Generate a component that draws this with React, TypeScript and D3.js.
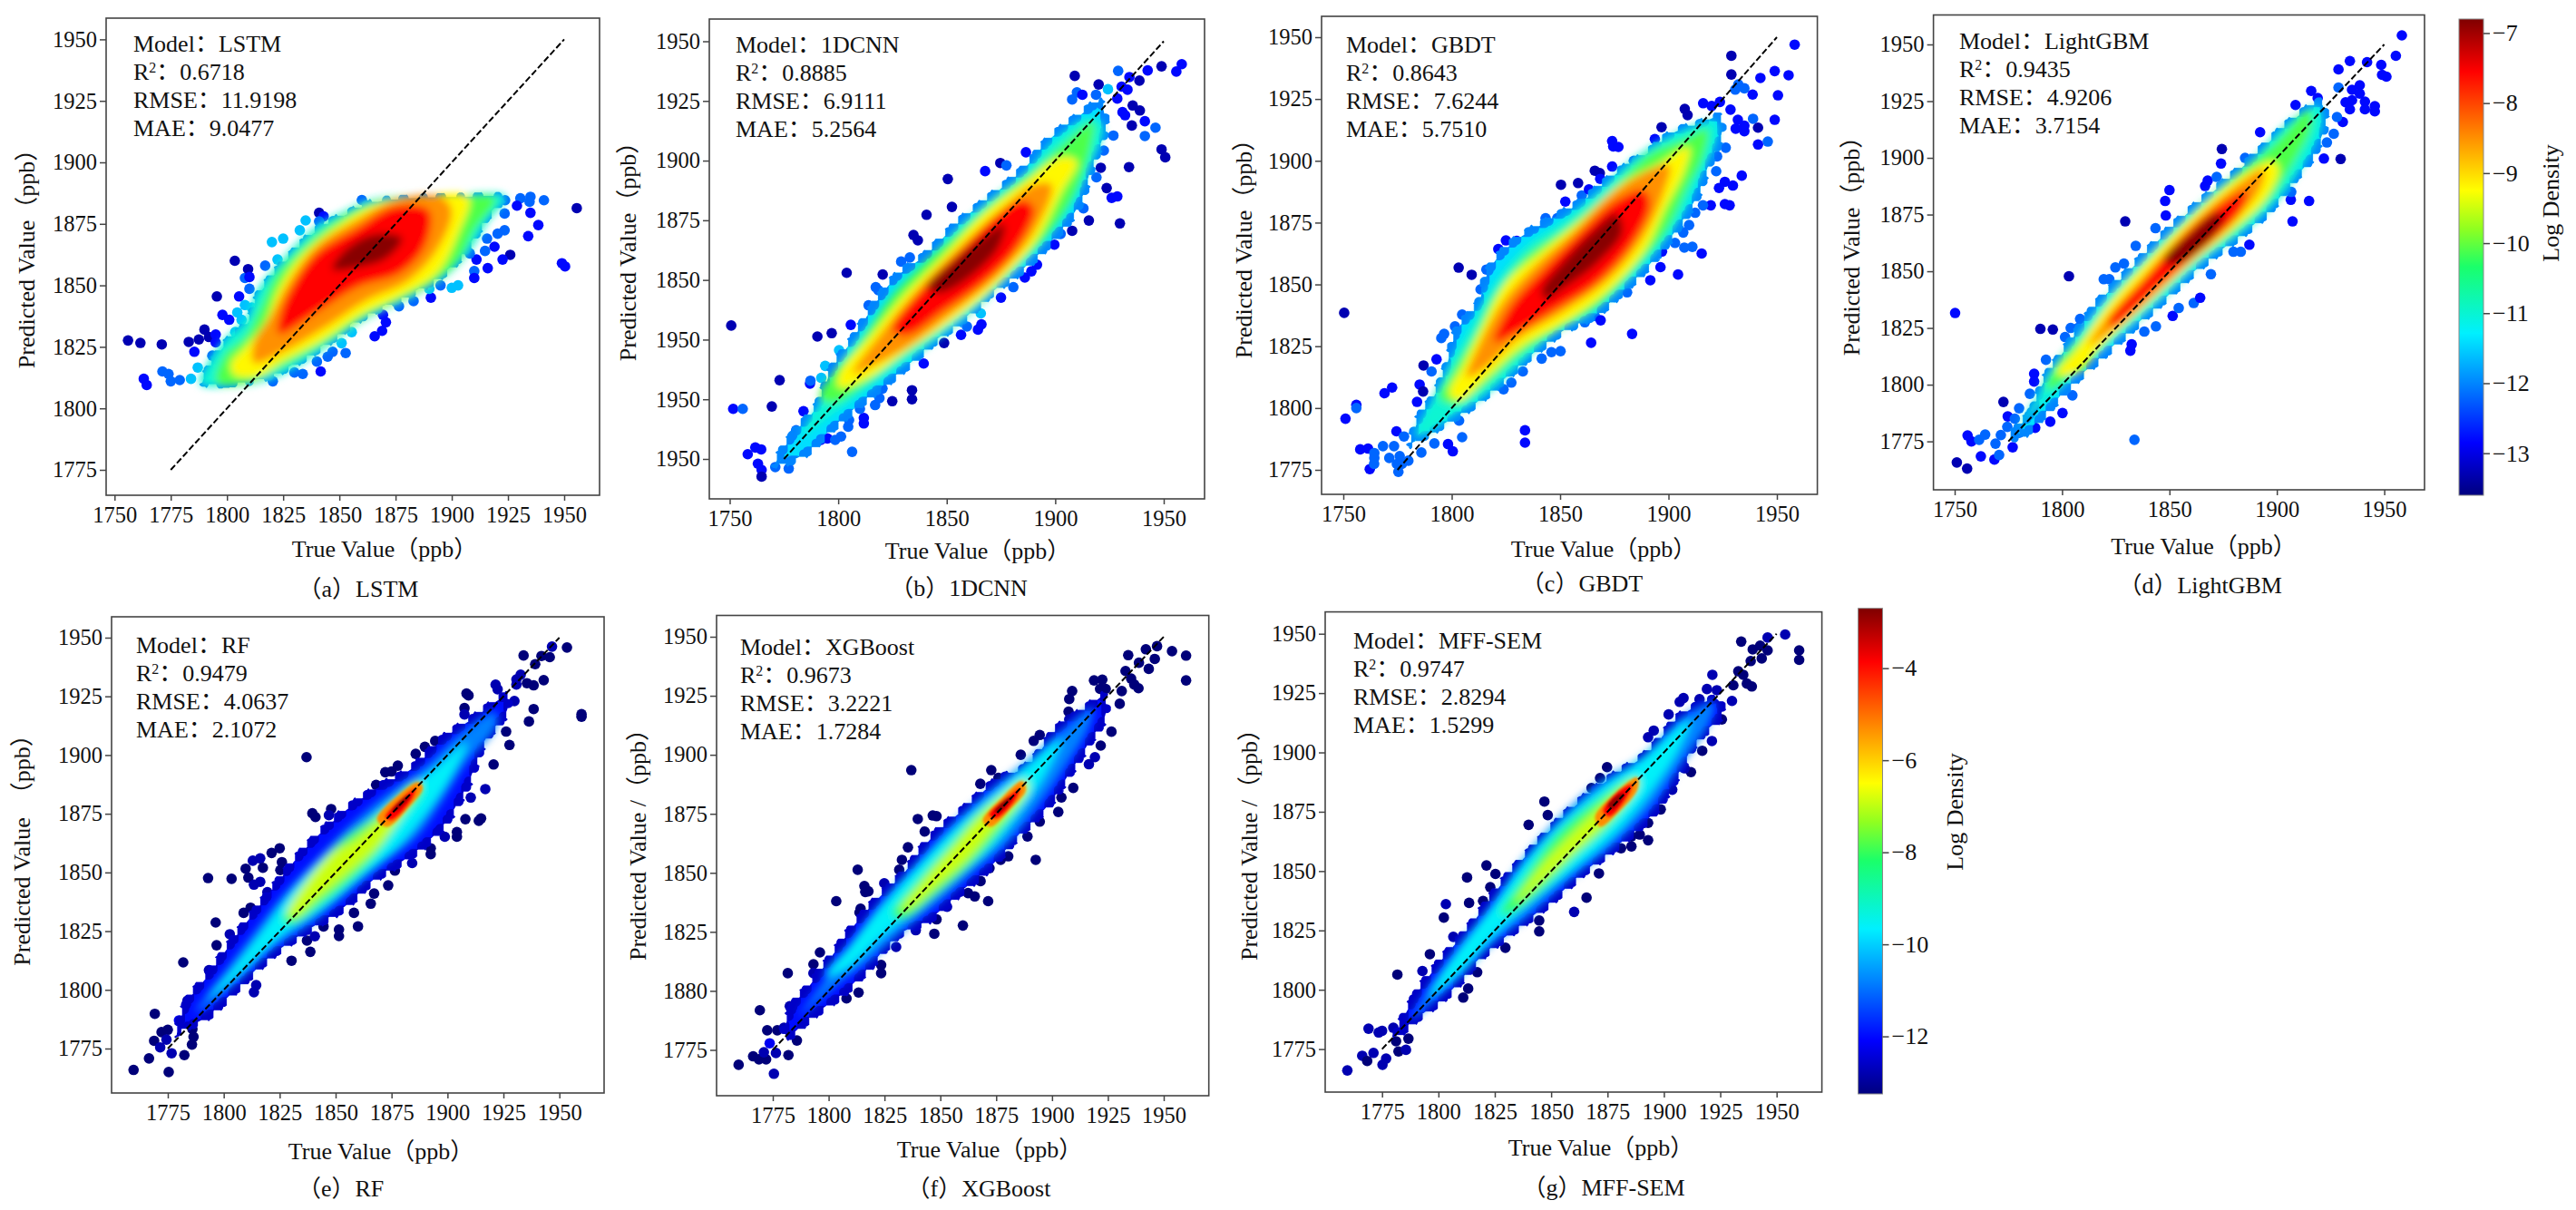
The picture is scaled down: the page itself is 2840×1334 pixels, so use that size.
import React, { useEffect, useRef } from 'react';
import * as d3 from 'd3';

type Pt = number[];

// density steps used for the scatter dots
const n = -13.3; // navy
const k = -12.8; // dark blue
const b = -12.2; // blue
const c = -11.6; // azure

const modelNames = ['LSTM', '1DCNN', 'GBDT', 'LightGBM', 'RF', 'XGBoost', 'MFF-SEM'];
const r2Values = ['0.6718', '0.8885', '0.8643', '0.9435', '0.9479', '0.9673', '0.9747'];
const rmseValues = ['11.9198', '6.9111', '7.6244', '4.9206', '4.0637', '3.2221', '2.8294'];
const maeValues = ['9.0477', '5.2564', '5.7510', '3.7154', '2.1072', '1.7284', '1.5299'];
const captionLetters = ['a', 'b', 'c', 'd', 'e', 'f', 'g'];
const yTitles = [
  'Predicted Value（ppb）', 'Predicted Value（ppb）', 'Predicted Value（ppb）', 'Predicted Value（ppb）',
  'Predicted Value  （ppb）', 'Predicted Value /（ppb）', 'Predicted Value /（ppb）',
];

const yTicks = [1775, 1800, 1825, 1850, 1875, 1900, 1925, 1950];
const xTicks25 = [1750, 1775, 1800, 1825, 1850, 1875, 1900, 1925, 1950];
const xTicks50 = [1750, 1800, 1850, 1900, 1950];
const xTicksShort = [1775, 1800, 1825, 1850, 1875, 1900, 1925, 1950];
const yLabelsPlain = ['1775', '1800', '1825', '1850', '1875', '1900', '1925', '1950'];
const yLabelsCnn = ['1950', '1950', '1950', '1850', '1875', '1900', '1925', '1950'];
const yLabelsXgb = ['1775', '1880', '1825', '1850', '1875', '1900', '1925', '1950'];

const upperCbTicks = [-13, -12, -11, -10, -9, -8, -7];
const lowerCbTicks = [-12, -10, -8, -6, -4];
const upperCbDomain = [-13.6, -6.8];
const lowerCbDomain = [-13.25, -2.7];

const upperLevels = [-11.4, -11.0, -10.1, -9.2, -8.5, -7.55, -6.85];
const lowerLevels = [-12.0, -10.8, -9.6, -8.0, -6.9, -5.3, -3.9, -2.9];

// LSTM
const lstmBands: Pt[][] = [
  [[1788, 1810], [1801, 1809], [1817.6, 1811.4], [1832.4, 1817.8], [1847, 1826.5], [1858.3, 1834.4], [1871.3, 1840.7], [1884.3, 1846.3], [1899, 1855], [1908.3, 1864.5], [1915.7, 1875.6], [1924, 1886], [1902.8, 1887], [1876.9, 1886.2], [1863.9, 1884.7], [1852.8, 1880.3], [1839.8, 1874], [1828.7, 1864.5], [1819.4, 1855], [1813, 1847], [1808.3, 1836], [1799, 1828], [1791.7, 1818.5]],
  [[1788, 1810], [1801, 1809], [1817.6, 1811.4], [1832.4, 1817.8], [1847, 1826.5], [1858.3, 1834.4], [1871.3, 1840.7], [1884.3, 1846.3], [1899, 1855], [1908.3, 1864.5], [1915.7, 1875.6], [1924, 1886], [1902.8, 1887], [1876.9, 1886.2], [1863.9, 1884.7], [1852.8, 1880.3], [1839.8, 1874], [1828.7, 1864.5], [1819.4, 1855], [1813, 1847], [1808.3, 1836], [1799, 1828], [1791.7, 1818.5]],
  [[1795.4, 1810.6], [1808.3, 1810], [1821.3, 1815.4], [1836, 1822.5], [1849, 1829.6], [1862, 1837.6], [1876.9, 1843.9], [1891.7, 1851], [1902.8, 1859.7], [1910, 1872.4], [1919.4, 1885.4], [1902.8, 1886.3], [1877, 1885.9], [1862, 1882.7], [1847, 1875.6], [1832.4, 1864.5], [1821.3, 1853.4], [1814.8, 1840.7], [1808.3, 1829.6], [1799, 1821.7]],
  [[1802.8, 1813.8], [1813.9, 1813], [1825, 1819.3], [1841.7, 1827.3], [1860.2, 1838.3], [1876.9, 1845.5], [1893.5, 1855], [1902.8, 1870.8], [1907.4, 1885.9], [1884.3, 1885.9], [1865.7, 1882.7], [1849, 1874], [1832.4, 1861.3], [1823, 1848.6], [1816.7, 1834.4], [1808.3, 1825], [1801.9, 1818.5]],
  [[1812, 1818.5], [1825, 1823], [1843.5, 1832.8], [1862, 1843.9], [1880.6, 1851.8], [1893.5, 1864.5], [1900, 1880.3], [1895.4, 1885.9], [1875, 1885], [1858.3, 1877], [1839.8, 1866], [1827.8, 1851.8], [1819.4, 1837.6], [1812, 1826.5]],
  [[1823, 1830.4], [1839.8, 1839], [1858.3, 1849.4], [1876.9, 1855], [1888, 1866], [1889.8, 1880.3], [1875, 1882], [1856.5, 1872.4], [1839.8, 1862.9], [1829.6, 1850.2], [1824, 1839]],
  [[1847, 1856.6], [1858.3, 1857.3], [1871.3, 1861.3], [1877.8, 1869.2], [1865.7, 1870.8], [1852.8, 1864.5]],
];
const lstmDots: Pt[] = [
  [1756, 1827.6, n], [1761.5, 1826.6, n], [1771, 1826, n], [1763, 1812, k], [1764.3, 1809.5, k], [1771.3, 1815, b], [1774, 1814, b], [1775, 1811, b], [1779, 1811.5, b], [1784, 1812, c],
  [1783, 1827, n], [1785.5, 1823, k], [1787.5, 1828, n], [1790, 1832, n], [1792, 1829, n], [1795, 1830, k], [1795, 1826.8, k], [1793.5, 1821.4, b], [1787, 1816.6, c], [1795.5, 1845.5, n],
  [1805.4, 1845.5, k], [1803.5, 1860, n], [1798, 1838, k], [1801, 1836, k], [1808, 1853, b], [1809.4, 1856.6, n], [1810, 1853.4, k], [1810, 1848.6, b], [1808, 1842, c], [1804.6, 1839, c],
  [1811, 1841, c], [1803.7, 1831, c], [1806.5, 1836, c], [1817, 1858, b], [1820, 1867.6, c], [1825, 1869, c], [1822.5, 1860.5, c], [1832.4, 1872.4, c], [1835, 1876.4, c], [1841, 1879.5, n],
  [1843, 1878, k], [1841, 1876, b], [1860, 1884.7, b], [1930.5, 1885.4, b], [1935, 1886, b], [1934.6, 1884, b], [1929, 1882.4, k], [1923.7, 1884.6, b], [1941, 1884.6, b], [1955.6, 1881.4, n],
  [1935, 1879.5, k], [1938.5, 1874.5, k], [1934, 1870, k], [1923.5, 1879.2, b], [1923.5, 1872.4, b], [1920.4, 1871, b], [1915.7, 1869, b], [1914.8, 1864, b], [1919, 1865.7, k], [1926, 1862.4, n],
  [1922.6, 1860.5, k], [1911, 1860.5, k], [1916, 1857, k], [1910, 1855.8, b], [1910, 1853, k], [1949, 1859, k], [1950.4, 1857.7, k], [1908, 1863, b], [1902.8, 1850, c], [1900, 1849, c],
  [1895, 1850, b], [1890.7, 1845, k], [1890, 1848.6, c], [1883, 1843.6, b], [1876.5, 1841.5, b], [1869.4, 1838, k], [1870.7, 1835, k], [1869, 1831.5, k], [1865.7, 1829.3, k], [1855.5, 1831, c],
  [1852.8, 1822.5, b], [1851, 1826.5, c], [1847, 1823, b], [1844.8, 1821, b], [1841.7, 1815, k], [1840, 1819, b], [1833.7, 1814, b], [1830, 1814.6, b], [1820.4, 1811, b],
];

// 1DCNN
const cnnBands: Pt[][] = [
  [[1769.6, 1772], [1777.7, 1786], [1788.6, 1797.6], [1796, 1814], [1805, 1825.6], [1814, 1838.8], [1825, 1852], [1839.4, 1861.8], [1854, 1875], [1870, 1886.6], [1884.7, 1898], [1895.6, 1909.6], [1910, 1920], [1921, 1926], [1924.6, 1914.6], [1918, 1896.4], [1912, 1880], [1901, 1866.8], [1886.5, 1853.6], [1872, 1843.7], [1861, 1834], [1846.6, 1824], [1830.3, 1810.8], [1814, 1799], [1799.5, 1787.7], [1783, 1774.5]],
  [[1783.2, 1784.4], [1794, 1802.5], [1801.3, 1815.7], [1814, 1830.5], [1828.5, 1847], [1843, 1860], [1857.5, 1873.4], [1872, 1885], [1886.5, 1894.8], [1899, 1908], [1915.5, 1917.9], [1922, 1914.6], [1915.5, 1896.4], [1906.5, 1880], [1893.8, 1865], [1879.3, 1852], [1864.8, 1838.8], [1848.5, 1827], [1828.5, 1814], [1810.4, 1802.5], [1796, 1792.6]],
  [[1791.3, 1800.9], [1797.7, 1810.8], [1808.6, 1822.3], [1825, 1843.7], [1839.4, 1856.9], [1857.5, 1871.7], [1872, 1883.3], [1888.4, 1894.8], [1902.8, 1906.3], [1917.4, 1916.2], [1916.5, 1906.3], [1909.2, 1886.6], [1897.4, 1870], [1883, 1856.9], [1864.8, 1842], [1846.6, 1828.9], [1828.5, 1817.4], [1810.4, 1805], [1797.7, 1798.4]],
  [[1800.4, 1805], [1800.4, 1810.8], [1814, 1825.6], [1830.3, 1843.7], [1848.5, 1860.2], [1866.6, 1877.5], [1886.5, 1891.5], [1902.8, 1901.4], [1910, 1899.7], [1902.8, 1886.6], [1890.2, 1865], [1872, 1847], [1854, 1833.8], [1832.1, 1820.7], [1814, 1809]],
  [[1806.8, 1810.8], [1819.4, 1827.2], [1837.6, 1847], [1855.7, 1863.5], [1875.7, 1880], [1890.2, 1889.9], [1898.3, 1889.9], [1890.2, 1870], [1873.8, 1852], [1854, 1837], [1832, 1822], [1815.8, 1814]],
  [[1825, 1829], [1839.4, 1847], [1855.7, 1861.8], [1872, 1876.7], [1884.7, 1883.3], [1890.2, 1880], [1881, 1861.8], [1866.6, 1848.7], [1848.5, 1837], [1832, 1827]],
  [[1841, 1847], [1854, 1858.6], [1870, 1870], [1876.6, 1873.4], [1873.8, 1863.5], [1859.3, 1850.3], [1846.6, 1844.5]],
];
const cnnDots: Pt[] = [
  [1750.7, 1830.9, n], [1751.6, 1796, k], [1756, 1796, b], [1769.4, 1797, n], [1773, 1808, n], [1787, 1806.6, k], [1787.2, 1807.8, b], [1758.3, 1777, k], [1761.8, 1779.8, k], [1764.5, 1779, k],
  [1763, 1773, k], [1764.7, 1770.4, k], [1764.7, 1767.6, n], [1771, 1771.6, b], [1777.2, 1771, b], [1780.6, 1787, b], [1784, 1795, k], [1792, 1783, k], [1795, 1783.6, k], [1798.6, 1783, b],
  [1801.3, 1784.4, b], [1805, 1791.3, b], [1804.6, 1788.5, b], [1806.4, 1778, b], [1811.8, 1792.2, k], [1811.8, 1789.9, k], [1810, 1796, b], [1817, 1797.6, b], [1819, 1800.5, b], [1820.4, 1804.5, b],
  [1824.9, 1799.2, n], [1834, 1803.8, n], [1834, 1800, n], [1839.4, 1815, k], [1848.8, 1823.6, n], [1856.6, 1827, k], [1859.3, 1830.5, b], [1864.4, 1829.2, k], [1866, 1831.4, k], [1865.7, 1836, c],
  [1875, 1842.6, k], [1880.7, 1847, b], [1886, 1851, k], [1891.6, 1856.4, k], [1889, 1853.6, k], [1899.6, 1864.8, k], [1902.5, 1869.3, b], [1907.8, 1870.6, n], [1915.5, 1874.9, n], [1913, 1880, b],
  [1929.8, 1873.7, n], [1923.7, 1888.5, n], [1926, 1884.4, k], [1928.6, 1885, k], [1934, 1897.3, n], [1949, 1904.7, n], [1950.7, 1901.4, n], [1941.3, 1910.3, b], [1946.2, 1913.8, b], [1941.3, 1916.5, k],
  [1935.3, 1914.7, n], [1939, 1921, n], [1935.7, 1923.1, n], [1931, 1920.3, k], [1932.2, 1919, k], [1926.8, 1910.5, b], [1922.4, 1904.2, b], [1921, 1897, n], [1919, 1893, b], [1928.6, 1926, k],
  [1933.3, 1929.7, k], [1930.6, 1931, k], [1934.2, 1935, k], [1938.8, 1933.5, n], [1942.6, 1937.8, k], [1929, 1937.6, b], [1949, 1939.5, n], [1955.8, 1937.3, k], [1958.3, 1940.4, k], [1909, 1935.5, n],
  [1910, 1928.6, b], [1912.5, 1927.6, k], [1907.8, 1925.6, b], [1920, 1931.9, n], [1918.8, 1927.6, b], [1924.3, 1929.9, c], [1886.5, 1903.5, k], [1874.7, 1899, n], [1877.5, 1898, b], [1867.7, 1895.6, k],
  [1850.5, 1892.3, n], [1852.4, 1880.6, n], [1840.7, 1877.3, n], [1834.7, 1868.8, n], [1836.7, 1866.6, n], [1833, 1859.4, b], [1829, 1857.7, b], [1820.5, 1852.3, n], [1817.3, 1847, b], [1818.5, 1845.7, b],
  [1814, 1839.4, b], [1803.9, 1853, n], [1805.8, 1831.2, k], [1790.4, 1826.3, n], [1797, 1827.7, n], [1800.4, 1820.6, c], [1794, 1814, c], [1792.2, 1809, c],
];

// GBDT
const gbdtBands: Pt[][] = [
  [[1779.8, 1783.8], [1783.4, 1796.5], [1790.7, 1806], [1796, 1817], [1801.5, 1833], [1810.6, 1842.6], [1816, 1857], [1827, 1868], [1845, 1877.6], [1857.8, 1884], [1876, 1896.7], [1888.7, 1903.9], [1901.4, 1912.6], [1912.3, 1915.8], [1924, 1919], [1925.9, 1911], [1919.5, 1896.7], [1914, 1884], [1905, 1871.3], [1894, 1858.5], [1881.4, 1847.4], [1866.9, 1836.3], [1852.4, 1830], [1837.8, 1820.3], [1823.3, 1809], [1810.6, 1799.7], [1796, 1791.7], [1783.4, 1785]],
  [[1783.4, 1788.5], [1790.7, 1802.8], [1801.5, 1822], [1810.6, 1836.3], [1819.7, 1850.6], [1834.2, 1865.7], [1848.7, 1874.4], [1866.9, 1887], [1885, 1901.5], [1903.2, 1911], [1921.3, 1915.8], [1922.2, 1909.4], [1915, 1895], [1906.8, 1879], [1894, 1863.3], [1879.6, 1849.8], [1863.2, 1837.8], [1846.9, 1829.9], [1830.6, 1817], [1814.2, 1804.4], [1799.7, 1796.5], [1788.8, 1790]],
  [[1794.3, 1804.4], [1799.7, 1814], [1810.6, 1830], [1819.7, 1845.8], [1834.2, 1861.7], [1852.4, 1872.8], [1870.5, 1885.6], [1890.5, 1902.3], [1906.8, 1908.6], [1917.7, 1912.6], [1915.9, 1901.5], [1908.6, 1888.8], [1898.6, 1871.3], [1885, 1857], [1866.9, 1841], [1848.7, 1831.5], [1830.6, 1821], [1814.2, 1808.4], [1801.5, 1801.3]],
  [[1798.8, 1806], [1805.2, 1817], [1814.2, 1833], [1825, 1850.6], [1841.5, 1863.3], [1859.6, 1876], [1877.8, 1890.3], [1896, 1899], [1909.5, 1905.5], [1907.7, 1896.7], [1898.6, 1880.8], [1888.7, 1863.3], [1872.3, 1847.4], [1852.4, 1834.7], [1832.4, 1825], [1816, 1812.4], [1803.4, 1803]],
  [[1807, 1812.4], [1812.4, 1825], [1823.3, 1842.6], [1837.8, 1857], [1856, 1871.3], [1874, 1887], [1892.3, 1896.7], [1900.5, 1898.3], [1897.7, 1887], [1888.7, 1869.7], [1872.3, 1852], [1852.4, 1839.4], [1830.6, 1828], [1814.2, 1815.6]],
  [[1819.7, 1826.7], [1827, 1841], [1841.5, 1855.3], [1857.8, 1869.7], [1876, 1884], [1888.7, 1888], [1891.4, 1882.4], [1883.2, 1866.5], [1866.9, 1850.6], [1846.9, 1839.4], [1828.8, 1830]],
  [[1841.5, 1847.4], [1852.4, 1860], [1865, 1871.3], [1876, 1878.4], [1878.7, 1871.3], [1866.9, 1858.5], [1852.4, 1849], [1843.3, 1844]],
];
const gbdtDots: Pt[] = [
  [1750.4, 1838.5, n], [1751, 1795.7, k], [1756, 1801.3, k], [1756, 1800, b], [1757.8, 1783.3, k], [1761.4, 1783.6, k], [1762.2, 1775.3, k], [1764.2, 1777.4, b], [1764.3, 1779.8, b], [1764.3, 1781.8, b],
  [1769, 1806, k], [1772.5, 1808.3, k], [1785.2, 1809.5, k], [1786.8, 1806.7, n], [1784, 1802.5, k], [1774.5, 1790.6, k], [1771.2, 1779.8, b], [1768.3, 1784.6, b], [1775.4, 1774.2, b], [1777, 1777.4, b],
  [1780, 1778.7, b], [1774.7, 1777.4, b], [1776, 1780.6, b], [1778, 1788.5, b], [1773.4, 1784.6, b], [1786, 1782, b], [1792, 1785.7, b], [1798.3, 1785.4, k], [1800.5, 1782.5, k], [1803.4, 1794.9, b],
  [1804.8, 1788.2, b], [1787, 1817.2, n], [1793, 1819.7, k], [1790.7, 1814.8, b], [1795.2, 1828.3, b], [1796.5, 1830, b], [1803.2, 1856.8, n], [1809.2, 1853.9, n], [1801.5, 1833, b], [1804.8, 1837.8, b],
  [1816, 1856, b], [1813.3, 1848, b], [1821.5, 1864.3, k], [1825, 1867.8, k], [1830, 1867.6, k], [1843.3, 1876.8, b], [1848.7, 1876.8, b], [1852.4, 1883.5, k], [1850.4, 1890.3, n], [1858.3, 1891, n],
  [1860, 1886, b], [1863.3, 1888.4, k], [1866, 1896, n], [1868.3, 1895, n], [1868.5, 1892.7, k], [1874, 1908, k], [1874.5, 1905.8, k], [1876.9, 1905.6, k], [1874, 1897.7, k], [1884, 1900, b],
  [1896.8, 1913.6, n], [1893.7, 1908.8, k], [1907.5, 1921, n], [1908.8, 1918.5, n], [1916, 1923.3, k], [1919.9, 1922.2, k], [1923.7, 1923.8, k], [1928.6, 1920.7, k], [1929, 1942.5, n], [1929, 1934.9, n],
  [1932.2, 1930.9, b], [1935, 1929.3, b], [1930.8, 1928.8, b], [1938.8, 1926.8, k], [1942.4, 1933.5, k], [1949, 1936.3, k], [1958.2, 1947, k], [1955.4, 1934.6, k], [1950.5, 1926.5, k], [1949, 1916.6, k],
  [1945.8, 1907.8, b], [1939, 1917, b], [1941.3, 1913.4, n], [1941.3, 1906.6, k], [1935, 1912, k], [1935, 1914.2, k], [1932, 1916.6, k], [1931, 1913, k], [1926.4, 1905.3, b], [1922.4, 1901.8, b],
  [1922, 1895.8, b], [1933.8, 1894, k], [1929.7, 1890, k], [1926, 1891.5, k], [1923.3, 1889, k], [1928.2, 1882, k], [1926, 1882.5, k], [1919.5, 1882, k], [1915.9, 1882, b], [1912.3, 1879, b],
  [1909.5, 1874, b], [1906.8, 1871, b], [1915.3, 1862.5, k], [1911, 1865.2, b], [1907.3, 1864.9, b], [1903, 1866.8, b], [1897, 1863.3, k], [1896.3, 1857, k], [1904.4, 1854, k], [1891.6, 1851.7, k],
  [1880.9, 1846.8, b], [1868.9, 1840.7, b], [1866, 1837.2, b], [1868.7, 1835.5, k], [1883.2, 1830, k], [1864.3, 1826.4, k], [1861.4, 1834.7, b], [1850.2, 1823, b], [1846, 1822.6, b], [1841.5, 1820, b],
  [1832.8, 1814.8, b], [1827.5, 1810.3, b], [1823.9, 1807.6, b], [1833.8, 1791, k], [1833.8, 1786, k],
];

// LightGBM
const lgbmBands: Pt[][] = [
  [[1774.5, 1777], [1784.5, 1789.2], [1790.5, 1803], [1800.4, 1817], [1814.4, 1836], [1830.4, 1851.7], [1846.3, 1867.3], [1862.3, 1881], [1878.2, 1893.3], [1892.2, 1905.4], [1906, 1917.6], [1921, 1926], [1924, 1915.8], [1918, 1900], [1908, 1888], [1896, 1874], [1878.2, 1860.3], [1866.3, 1851.7], [1850.3, 1837.8], [1834.3, 1824], [1820.4, 1811.8], [1804.4, 1798], [1794.5, 1787.5], [1780.5, 1775.4]],
  [[1779.5, 1781.4], [1788.5, 1794.4], [1793.5, 1804.8], [1806.4, 1820.4], [1820.4, 1837.8], [1836.3, 1853.4], [1854.3, 1870.7], [1872.2, 1886.4], [1888.2, 1898.5], [1903.5, 1914], [1919, 1922.8], [1921, 1915.8], [1912, 1896.8], [1900, 1881], [1884.2, 1867.3], [1866.3, 1855], [1850.3, 1841], [1834.3, 1827.4], [1816.4, 1813.5], [1800.4, 1799.6], [1788.5, 1789.2]],
  [[1792.5, 1798], [1798.5, 1810], [1810.4, 1822], [1826.4, 1841.3], [1844.3, 1858.6], [1862.3, 1876], [1880.2, 1891.6], [1898.2, 1905.4], [1915, 1921], [1916, 1914], [1907, 1896.8], [1896, 1881], [1880.2, 1867.3], [1862.3, 1855], [1844.3, 1839.5], [1824.4, 1824], [1806.4, 1806.6], [1796.5, 1798.8]],
  [[1797.5, 1805], [1806.4, 1815.3], [1820.4, 1834.3], [1838.3, 1853.4], [1858.3, 1872.5], [1880.2, 1890], [1898.2, 1898.5], [1901, 1895], [1894, 1881], [1878.2, 1867.3], [1858.3, 1851.7], [1838.3, 1834.3], [1820.4, 1818.7], [1806.4, 1804.8]],
  [[1812.4, 1817], [1820.4, 1829], [1840.3, 1850], [1858.3, 1869], [1878.2, 1885.5], [1894, 1895], [1892.2, 1886.4], [1878.2, 1870], [1858.3, 1853.4], [1838.3, 1836], [1820.4, 1822]],
  [[1821.4, 1827.4], [1838.3, 1846.5], [1856.3, 1865.6], [1876.2, 1881], [1886.2, 1885.5], [1882.2, 1875], [1864.3, 1858.6], [1844.3, 1843], [1824.4, 1825.7]],
  [[1848.3, 1856.9], [1858.3, 1865.5], [1870.3, 1875], [1875.2, 1875], [1870.3, 1865.6], [1856.3, 1854.3], [1848.3, 1853.4]],
];
const lgbmDots: Pt[] = [
  [1750.2, 1831.6, k], [1751, 1765.7, n], [1755.8, 1763, n], [1756, 1777.6, k], [1757.8, 1775, k], [1762.2, 1768.4, k], [1761.4, 1775.7, b], [1764.2, 1778, b], [1768.5, 1767, k], [1770.7, 1769, b],
  [1769, 1774, b], [1771.5, 1777.8, b], [1772.7, 1792.4, n], [1774.7, 1786, k], [1777, 1772.4, k], [1774.5, 1781.4, b], [1780, 1778.8, b], [1778, 1785, b], [1780, 1789.6, b], [1785, 1796, b],
  [1787.5, 1781, k], [1794.5, 1783.7, k], [1800.2, 1787.5, k], [1804.8, 1795.3, b], [1787, 1804.8, k], [1787, 1801.4, k], [1789.9, 1824.6, n], [1795.7, 1824.3, n], [1803.2, 1847.8, n], [1801.4, 1821, b],
  [1804, 1825, b], [1807.4, 1825, b], [1808.4, 1829, b], [1792.5, 1811, b], [1819.4, 1846.5, b], [1822, 1846.5, b], [1824.8, 1851.7, b], [1829.4, 1872, n], [1834.3, 1861.2, b], [1828.8, 1853.4, b],
  [1843.5, 1869, b], [1848, 1881, k], [1850, 1885.8, k], [1848.3, 1874.6, k], [1831.8, 1815, k], [1832.4, 1817.8, k], [1838.3, 1823.4, b], [1843.7, 1825.7, b], [1833.7, 1775.7, b], [1851.5, 1830.3, k],
  [1854.3, 1833.8, b], [1861.3, 1836, b], [1864.3, 1838.3, k], [1869.3, 1848.7, b], [1866.6, 1887.6, k], [1867.8, 1890, k], [1874.4, 1903.9, n], [1874, 1897.5, k], [1872, 1891.6, b], [1885.2, 1900, b],
  [1887.2, 1861.7, k], [1883.2, 1858.6, b], [1879.8, 1858.6, b], [1892.2, 1911.3, k], [1907.3, 1872, k], [1906.5, 1881.5, k], [1915, 1881, k], [1906.7, 1885, b], [1908.7, 1923.3, k], [1921.9, 1899.7, k],
  [1929.7, 1899.5, n], [1923.3, 1906.8, b], [1926.5, 1910.6, b], [1930.7, 1915.8, k], [1928, 1918, b], [1916, 1929.5, k], [1919, 1926.4, k], [1928.7, 1931, b], [1928.7, 1939, k], [1934, 1942.7, k],
  [1942, 1942.2, k], [1948.6, 1941, k], [1955.4, 1945, k], [1958.2, 1954, k], [1949, 1936.6, k], [1951, 1935.8, k], [1938.6, 1932, k], [1935, 1930, k], [1932, 1924.5, k], [1935, 1925.4, k],
  [1934, 1921.4, k], [1938.6, 1928.3, k], [1941, 1924.8, k], [1941, 1921.4, k], [1945.6, 1922.8, k], [1945.6, 1920.5, k],
];

// RF
const rfBands: Pt[][] = [
  [[1778, 1780], [1782, 1795], [1793, 1808.7], [1804, 1823.7], [1819, 1842], [1834, 1860], [1852.6, 1877], [1867.5, 1887], [1882.4, 1895], [1897.3, 1908.4], [1910.4, 1916.8], [1927, 1926.7], [1928, 1918.4], [1917.8, 1905], [1910.4, 1886.8], [1899, 1868.6], [1886, 1857], [1867.5, 1845.3], [1854.5, 1833.7], [1837.7, 1823.7], [1822.8, 1813.7], [1808, 1800.4], [1793, 1787], [1782, 1782]],
  [[1787.5, 1790.4], [1798.6, 1805.4], [1811.7, 1822], [1826.6, 1840.3], [1841.5, 1855.3], [1856.4, 1870], [1873, 1883.5], [1890, 1895], [1904.8, 1908.4], [1921.5, 1918.4], [1921.5, 1911.8], [1908.5, 1896.8], [1897.3, 1880], [1886, 1865], [1871, 1853.6], [1856.4, 1842], [1839.6, 1828.7], [1821, 1817], [1806, 1803.7], [1791, 1792]],
  [[1793, 1797], [1804, 1808.7], [1817.3, 1825], [1830.3, 1842], [1845, 1857], [1860, 1868.6], [1876.8, 1881.8], [1893.6, 1893.5], [1908.5, 1905], [1903, 1893.5], [1891.7, 1876.9], [1876.8, 1860], [1862, 1848.7], [1845, 1835.3], [1826.6, 1823.7], [1809.8, 1808.7], [1796.8, 1798.8]],
  [[1826.6, 1828.7], [1830.3, 1837], [1843.3, 1853.6], [1854.5, 1865], [1869.4, 1875], [1886, 1888.5], [1889, 1885], [1878.7, 1871.9], [1867.5, 1857], [1854.5, 1845], [1841.5, 1835.3], [1832, 1828.7]],
  [[1828.4, 1832], [1837.7, 1847], [1849, 1858.6], [1858.2, 1863.6], [1868.5, 1872], [1888, 1888.5], [1871.3, 1863.6], [1856.4, 1850.3], [1841.5, 1838.6], [1832, 1831]],
  [[1868.5, 1872.7], [1878.7, 1883.5], [1887, 1888.5], [1889, 1886], [1883.4, 1878.5], [1873, 1869.4]],
  [[1872, 1873.6], [1880.6, 1882.7], [1886, 1886], [1884.3, 1881], [1875, 1872]],
  [[1875, 1876], [1881.5, 1882.7], [1883.4, 1882.7], [1876.8, 1876]],
];
const rfDots: Pt[] = [
  [1759.7, 1765.9, n], [1766.6, 1770.8, n], [1775.4, 1765, n], [1782.4, 1772.2, n], [1785.8, 1776.7, n], [1786.5, 1780, n], [1786, 1783.3, n], [1769.2, 1789.8, n], [1768.9, 1778.3, n], [1772.2, 1782, n],
  [1775, 1783, n], [1771.6, 1775.5, k], [1776.7, 1773, k], [1774.4, 1778.8, k], [1781.9, 1811.7, n], [1783.8, 1795.4, k], [1780, 1787, b], [1793.4, 1808.4, k], [1796.8, 1819, n], [1796.4, 1828.7, n],
  [1802.7, 1823.7, k], [1793, 1847.6, n], [1803.5, 1847.3, n], [1808.9, 1832.8, n], [1812, 1835, n], [1813.5, 1799, k], [1814.5, 1802, k], [1809.8, 1851.6, n], [1811, 1847.8, n], [1813.5, 1844.8, k],
  [1816.3, 1846, k], [1813, 1855, k], [1816.3, 1856, k], [1817.5, 1852, n], [1821.4, 1858.3, n], [1825, 1860.3, n], [1825.3, 1851, n], [1826, 1854.4, n], [1819.5, 1841.6, k], [1830.3, 1812.4, n],
  [1838.7, 1816.2, n], [1837.2, 1821, n], [1840.7, 1822.8, k], [1844.6, 1827, n], [1839.6, 1875.2, n], [1841, 1873.6, n], [1848, 1877, n], [1847, 1874.4, k], [1837, 1899.1, n], [1851.5, 1825.7, n],
  [1851.5, 1822.9, n], [1858.2, 1832.8, n], [1860, 1827, n], [1865.7, 1836.7, n], [1867.2, 1841, n], [1873.5, 1844.5, n], [1876.5, 1850.8, n], [1868.1, 1887.3, n], [1872.2, 1892.7, n], [1875, 1893, n],
  [1877.8, 1895.5, n], [1885.8, 1900.5, n], [1884.2, 1854, k], [1892.5, 1857.8, n], [1892.5, 1860.3, n], [1898.8, 1865.2, k], [1904.2, 1865.2, n], [1904.2, 1867.2, n], [1908, 1872.7, n], [1914, 1872, n],
  [1915, 1873, n], [1916.9, 1885.5, k], [1910.4, 1881.9, k], [1894.5, 1906, n], [1889.9, 1903.5, n], [1908.5, 1926.2, n], [1909.4, 1925.4, n], [1907.6, 1920, n], [1907.6, 1917.3, k], [1920.6, 1896, n],
  [1926.2, 1910, n], [1927.7, 1904.3, n], [1921.5, 1930, k], [1922.4, 1928, k], [1929.9, 1923, k], [1930.8, 1932.2, k], [1932.7, 1934.2, k], [1930.8, 1930, k], [1935.5, 1930.6, n], [1938.5, 1929.7, n],
  [1934, 1942.4, n], [1939.2, 1938.7, n], [1942, 1942.2, n], [1945.7, 1941.7, n], [1943, 1931.9, n], [1938.5, 1919.6, n], [1936.4, 1914.3, n], [1946.7, 1946.2, k], [1953.4, 1945.8, n], [1959.9, 1917.4, n],
  [1959.9, 1916.3, n],
];

// XGBoost
const xgbBands: Pt[][] = [
  [[1779, 1781], [1782.6, 1794.3], [1789.6, 1802.6], [1800.2, 1815.8], [1809, 1827.4], [1819.6, 1839], [1832, 1850.5], [1844.3, 1865.4], [1860, 1878.6], [1874.2, 1890.2], [1888.3, 1896.8], [1900.7, 1911.7], [1913, 1920], [1923.6, 1926.5], [1925.3, 1916.6], [1918.3, 1905], [1909.5, 1891.8], [1899, 1877], [1886.6, 1865.4], [1874.2, 1852], [1860, 1840.6], [1846, 1829], [1832, 1822.4], [1819.6, 1809.2], [1807.3, 1797.6], [1793, 1787.7], [1782.6, 1779.4]],
  [[1787, 1789.4], [1796.7, 1802.6], [1809, 1819], [1823, 1837], [1839, 1853.8], [1854.8, 1870.3], [1872.5, 1885.2], [1890, 1898.4], [1904, 1910], [1918.3, 1920], [1916.5, 1911.7], [1906, 1895], [1895.4, 1880.3], [1881.3, 1863.7], [1867.2, 1852], [1851.3, 1839], [1833.7, 1825.7], [1817.8, 1812.5], [1803.7, 1802.6], [1791.4, 1792.7]],
  [[1798.4, 1806.7], [1810.8, 1820.8], [1825, 1837.3], [1839, 1852], [1856.6, 1868.7], [1874.2, 1883.6], [1890, 1896], [1904, 1906.7], [1897, 1891.8], [1886.6, 1877], [1874.2, 1862], [1858.4, 1848.9], [1840.7, 1835.6], [1823, 1822.4], [1807.3, 1809.2]],
  [[1828.4, 1832.3], [1839, 1845.6], [1853, 1860.4], [1867.2, 1875.3], [1881.3, 1885.2], [1888.3, 1888.5], [1889.2, 1885.2], [1876, 1867], [1863.6, 1853.8], [1847.8, 1840.6], [1833.7, 1830.7]],
  [[1832, 1834], [1844.3, 1848.9], [1856.6, 1862], [1869, 1875.3], [1888.3, 1889.3], [1889.2, 1885.2], [1874.2, 1868.7], [1862, 1855.5], [1847.8, 1843.9], [1837.2, 1835.6]],
  [[1869, 1872], [1877.7, 1881.9], [1886.6, 1888.9], [1888.3, 1885.2], [1881.3, 1877], [1872.5, 1869.5]],
  [[1871.6, 1874.5], [1879.5, 1882], [1885.8, 1886], [1884, 1881], [1875, 1872.8]],
  [[1874.2, 1876], [1880.4, 1882], [1882.2, 1882], [1876, 1875.3]],
];
const xgbDots: Pt[] = [
  [1759.7, 1768.7, n], [1766.2, 1772.3, n], [1768.8, 1771, n], [1772, 1771, n], [1769.2, 1791.8, n], [1772.5, 1783.3, n], [1777, 1783.3, n], [1775.5, 1764.9, k], [1776.4, 1773.7, k], [1773.6, 1777.8, b],
  [1771, 1774, k], [1782, 1772.8, n], [1785.8, 1779, n], [1780, 1784.4, k], [1782.6, 1793.5, k], [1781.7, 1807.5, n], [1793.2, 1811.3, n], [1796.1, 1816.3, n], [1793.2, 1807.5, k], [1808, 1796.8, n],
  [1813.4, 1799.3, n], [1803.4, 1838, n], [1814.3, 1834.8, n], [1813.8, 1833.2, n], [1813, 1851.3, n], [1816, 1844.4, n], [1816.4, 1841.9, n], [1817.8, 1842.2, n], [1824.9, 1845.6, k], [1831.6, 1851.3, n],
  [1832.8, 1855.5, n], [1835.5, 1860.8, n], [1839.9, 1872.8, n], [1843, 1867.5, n], [1846.6, 1874.3, n], [1848.3, 1874, n], [1837, 1893.5, n], [1823.5, 1811, n], [1823.5, 1807.5, n], [1830.2, 1818.6, k],
  [1839, 1825.7, k], [1847.3, 1824.2, n], [1848.3, 1830.3, n], [1860.1, 1827.7, n], [1853, 1835.6, k], [1862.4, 1841.4, n], [1865.4, 1840, n], [1871.4, 1838, n], [1868, 1846.5, n], [1872, 1852, n],
  [1880.4, 1857, n], [1877, 1855.5, n], [1892.7, 1855.5, n], [1889, 1865.4, n], [1894.5, 1871.7, n], [1902.8, 1875.8, n], [1904.2, 1881.9, n], [1909.5, 1886, n], [1867.9, 1887.7, n], [1872.8, 1893.5, n],
  [1876, 1890.2, n], [1886, 1900, n], [1894.5, 1908.4, n], [1891.8, 1905.9, n], [1909, 1927, n], [1907.7, 1923.6, n], [1907.4, 1918.3, n], [1907.7, 1915, k], [1921.8, 1903.9, n], [1926.6, 1909.8, n],
  [1919.2, 1899, k], [1916.5, 1896, k], [1918.8, 1931.5, n], [1922.5, 1931.8, n], [1921.5, 1927.9, n], [1924, 1927.9, n], [1931.2, 1927, n], [1930.3, 1921.6, n], [1932.9, 1935.5, n], [1935.4, 1932.3, n],
  [1936.8, 1929.8, n], [1938.7, 1928.2, n], [1934.1, 1942.2, n], [1938.9, 1939, n], [1942, 1944.7, n], [1947, 1946, n], [1946, 1940.6, n], [1943.3, 1936.4, n], [1953.7, 1943.9, n], [1960, 1942, n],
  [1960, 1931.5, n],
];

// MFF-SEM
const mffBands: Pt[][] = [
  [[1780, 1780.8], [1787.8, 1797.2], [1798.8, 1812], [1812, 1826.8], [1827.5, 1846.5], [1843, 1863], [1858.4, 1877.7], [1876, 1890.8], [1891.5, 1900.7], [1907, 1917], [1924.6, 1923.7], [1926.8, 1915.5], [1915.8, 1904], [1907, 1889], [1896, 1872.8], [1880.5, 1859.6], [1865, 1848], [1851.8, 1836.6], [1834.1, 1823.5], [1821, 1813.6], [1805.5, 1797.2], [1790, 1785.7], [1781.2, 1779]],
  [[1787.8, 1787.3], [1796.6, 1802], [1807.7, 1817], [1823, 1835], [1838.6, 1856.3], [1854, 1872.8], [1871.7, 1887.6], [1889.3, 1897.4], [1909.2, 1915.5], [1922.4, 1921.2], [1920, 1912.2], [1907, 1894], [1893.7, 1876], [1876, 1859.6], [1858.4, 1846.5], [1840.8, 1831.7], [1823, 1818.6], [1807.7, 1803.8], [1794.4, 1792.3]],
  [[1795.5, 1797.2], [1805.5, 1812], [1821, 1831.7], [1836.4, 1851.4], [1851.8, 1867.8], [1871.7, 1884.3], [1891.5, 1898.2], [1911.4, 1913.9], [1907, 1902.3], [1896, 1886], [1880.5, 1867.8], [1860.6, 1851.4], [1843, 1838.3], [1825.3, 1823.5], [1809.9, 1807], [1798.8, 1798.8]],
  [[1827.5, 1831.7], [1837.5, 1846.5], [1851.8, 1864.6], [1869.5, 1879.3], [1887, 1889.2], [1888.2, 1886], [1876, 1869.5], [1860.6, 1856.3], [1845, 1841.6], [1834, 1833.3]],
  [[1834, 1836.6], [1845, 1851.4], [1856.2, 1863], [1869.5, 1875.2], [1888.2, 1889.2], [1888.5, 1886], [1873.9, 1869.5], [1858.4, 1856.3], [1843, 1843.2]],
  [[1869.5, 1872.8], [1878.3, 1882.6], [1888.2, 1889.5], [1888.2, 1884.3], [1879.4, 1874.4], [1871.7, 1868.7]],
  [[1872.8, 1875.2], [1880.5, 1884.3], [1886, 1886.7], [1884.9, 1882.6], [1876, 1872.8]],
  [[1875, 1877.7], [1880.5, 1882.6], [1882.7, 1882.6], [1877.2, 1876]],
];
const mffDots: Pt[] = [
  [1759.6, 1766, k], [1766.2, 1772.2, k], [1768.4, 1770, n], [1769, 1783.6, k], [1773.5, 1782, k], [1775, 1782.7, k], [1771.2, 1773.4, k], [1775.2, 1768.4, k], [1776.8, 1771, k], [1782.3, 1774, n],
  [1785.6, 1774.7, k], [1786.7, 1779.4, n], [1781.2, 1778.3, n], [1780, 1784, k], [1781.8, 1806.4, n], [1792.9, 1807.9, k], [1796.2, 1815, n], [1802.4, 1830.4, n], [1803.3, 1836.1, k], [1812.7, 1847.3, n],
  [1821.3, 1852.4, n], [1825.3, 1848.8, n], [1823, 1843.2, n], [1813.6, 1836.6, n], [1819.8, 1837.4, n], [1806.6, 1822.3, k], [1811, 1796.7, n], [1813.2, 1800.5, n], [1817.2, 1807.4, n], [1829.7, 1817.7, n],
  [1844.7, 1829.2, n], [1844.7, 1824.6, n], [1860.2, 1832.8, k], [1865.7, 1838.8, n], [1871.2, 1849, n], [1840, 1869.5, n], [1847, 1879.3, n], [1848.5, 1873.6, n], [1867.9, 1885, n], [1874.8, 1893.8, n],
  [1871.7, 1889.2, n], [1881, 1859.6, n], [1885.6, 1860.4, n], [1885.6, 1864.6, n], [1889.3, 1865.4, n], [1893, 1863, n], [1893, 1870.3, n], [1898.6, 1876, n], [1893.7, 1875.2, n], [1903.7, 1884.3, k],
  [1912, 1891.7, n], [1909.2, 1893.3, k], [1917, 1900.7, n], [1921.3, 1904.8, k], [1925.7, 1913.9, n], [1893, 1906.4, k], [1895.5, 1909.2, k], [1902.1, 1916, k], [1908.7, 1922.9, k], [1907, 1921.3, k],
  [1915.8, 1922.4, k], [1919.1, 1926.7, k], [1921.5, 1932.7, k], [1923.5, 1926.2, k], [1930.2, 1921.7, k], [1930.8, 1928.3, n], [1933, 1934.2, n], [1935.2, 1932.7, n], [1936.8, 1929, n], [1939, 1927.8, n],
  [1934.3, 1946.7, n], [1938.5, 1938.5, n], [1939.4, 1943.4, n], [1942.7, 1945, n], [1943.4, 1939.6, n], [1946, 1943, n], [1946, 1948.4, k], [1953.8, 1949.7, k], [1960, 1943, n], [1960, 1939, n],
];

const allBands = [lstmBands, cnnBands, gbdtBands, lgbmBands, rfBands, xgbBands, mffBands];
const allDots = [lstmDots, cnnDots, gbdtDots, lgbmDots, rfDots, xgbDots, mffDots];
const allXTicks = [xTicks25, xTicks50, xTicks50, xTicks50, xTicksShort, xTicksShort, xTicksShort];
const allYLabels = [yLabelsPlain, yLabelsCnn, yLabelsPlain, yLabelsPlain, yLabelsPlain, yLabelsXgb, yLabelsPlain];

// pixel layout of every panel
const frames = [
  { l: 117, r: 661, t: 20, b: 546, x0: 126.3, x1: 622, y0: 518, y1: 43.4, titleX: 424, titleY: 614, capX: 395, capY: 658, yTitleX: 38, yTitleY: 279, noteX: 147, noteY: 57 },
  { l: 782, r: 1328, t: 21, b: 550, x0: 804.5, x1: 1283, y0: 506, y1: 45.5, titleX: 1078, titleY: 616, capX: 1057, capY: 657, yTitleX: 701, yTitleY: 271, noteX: 811, noteY: 58 },
  { l: 1457, r: 2003.6, t: 18, b: 545, x0: 1481, x1: 1959, y0: 518, y1: 41, titleX: 1768, titleY: 614, capX: 1744, capY: 652, yTitleX: 1380, yTitleY: 268, noteX: 1484, noteY: 58 },
  { l: 2131.6, r: 2673, t: 16.5, b: 540, x0: 2155, x1: 2628.6, y0: 486.6, y1: 49, titleX: 2429.5, titleY: 611, capX: 2425.7, capY: 654, yTitleX: 2050, yTitleY: 265, noteX: 2160, noteY: 54 },
  { l: 123, r: 666, t: 680, b: 1205, x0: 185, x1: 616.7, y0: 1156, y1: 703, titleX: 420, titleY: 1278, capX: 375.6, capY: 1319, yTitleX: 33, yTitleY: 931, noteX: 150, noteY: 720 },
  { l: 790, r: 1332.7, t: 678.5, b: 1208, x0: 852, x1: 1283, y0: 1157.5, y1: 702, titleX: 1091, titleY: 1276, capX: 1079, capY: 1319, yTitleX: 712, yTitleY: 925, noteX: 816, noteY: 722 },
  { l: 1461, r: 2008.6, t: 674.6, b: 1204, x0: 1523.7, x1: 1958.7, y0: 1156.6, y1: 698.7, titleX: 1765, titleY: 1274, capX: 1768, capY: 1318, yTitleX: 1386, yTitleY: 925, noteX: 1492, noteY: 715 },
];

const serif = '"Liberation Serif", "Noto Sans CJK SC", serif';
const tickFontSize = 24.5;
const textFontSize = 26;
const inkGrey = '#444';

// jet colormap as it appears on the colorbars
const jetStops = [0, 0.11, 0.23, 0.34, 0.48, 0.56, 0.64, 0.75, 0.89, 1];
const jetColors = ['#00007f', '#0000ff', '#0080ff', '#00f0ff', '#1aff6a', '#90ff20', '#ffff00', '#ff9000', '#ff0000', '#7f0000'];
const jet = d3.scaleLinear<string>().domain(jetStops).range(jetColors).interpolate(d3.interpolateRgb);

const colorOf = (domain: number[]) => (d: number) => jet((d - domain[0]) / (domain[1] - domain[0]));

const Panel: React.FC<{ index: number }> = ({ index }) => {
  const xAxisRef = useRef<SVGGElement | null>(null);
  const yAxisRef = useRef<SVGGElement | null>(null);
  const f = frames[index];
  const upper = index < 4;
  const cbDomain = upper ? upperCbDomain : lowerCbDomain;
  const levels = upper ? upperLevels : lowerLevels;
  const color = colorOf(cbDomain);

  const x = d3.scaleLinear().domain([index < 4 ? 1750 : 1775, 1950]).range([f.x0, f.x1]);
  const y = d3.scaleLinear().domain([1775, 1950]).range([f.y0, f.y1]);
  const outline = d3.line<Pt>().x((p) => x(p[0])).y((p) => y(p[1])).curve(d3.curveCatmullRomClosed.alpha(0.5));
  const bands = allBands[index];

  useEffect(() => {
    const labels = allYLabels[index];
    const xAxis = d3.axisBottom(x).tickValues(allXTicks[index]).tickSize(6).tickPadding(7).tickFormat(d3.format('d') as any);
    const yAxis = d3.axisLeft(y).tickValues(yTicks).tickSize(7).tickPadding(3).tickFormat((_, i) => labels[i]);
    for (const [node, axis] of [[xAxisRef.current, xAxis], [yAxisRef.current, yAxis]] as any[]) {
      const g = d3.select(node);
      g.selectAll('*').remove();
      g.call(axis);
      g.select('.domain').remove();
      g.selectAll('line').attr('stroke', inkGrey).attr('stroke-width', 1.5);
      g.selectAll('text').attr('fill', '#111');
      g.attr('font-family', serif).attr('font-size', tickFontSize);
    }
  }, [index]);

  return (
    <g>
      {allDots[index].map((p, i) => (
        <circle key={i} cx={x(p[0])} cy={y(p[1])} r={5.8} fill={color(p[2])} />
      ))}
      {/* outer rim: beaded stroke, eroded back so the rim stays on the traced edge */}
      <g filter="url(#rimErode)">
        <path d={outline(bands[0]) ?? ''} fill={color(levels[0])} />
        <path d={outline(bands[0]) ?? ''} fill="none" stroke={color(levels[0] - 0.6)} strokeWidth={11} strokeLinecap="round" strokeDasharray="0 7 0 13 0 5 0 16" />
      </g>
      <g filter={upper ? 'url(#blurUpper)' : 'url(#blurLower)'}>
        {bands.slice(1).map((b, i) =>
          upper || levels[i + 1] < -6 ? <path key={i} d={outline(b) ?? ''} fill={color(levels[i + 1])} /> : null
        )}
      </g>
      {!upper && (
        <g filter="url(#blurCore)">
          {bands.slice(1).map((b, i) =>
            levels[i + 1] >= -6 ? <path key={i} d={outline(b) ?? ''} fill={color(levels[i + 1])} /> : null
          )}
        </g>
      )}
      <line x1={x(1775)} y1={y(1775)} x2={x(1950)} y2={y(1950)} stroke="#000" strokeWidth={2} strokeDasharray="7 3" />
      <rect x={f.l} y={f.t} width={f.r - f.l} height={f.b - f.t} fill="none" stroke={inkGrey} strokeWidth={1.6} />
      <g ref={xAxisRef} transform={`translate(0,${f.b})`} />
      <g ref={yAxisRef} transform={`translate(${f.l},0)`} />

      <g fontFamily={serif} fontSize={textFontSize} fill="#111">
        <text x={f.noteX} y={f.noteY}>Model：{modelNames[index]}</text>
        <text x={f.noteX} y={f.noteY + 31}>R<tspan dy={-8} fontSize={16}>2</tspan><tspan dy={8}>：{r2Values[index]}</tspan></text>
        <text x={f.noteX} y={f.noteY + 62}>RMSE：{rmseValues[index]}</text>
        <text x={f.noteX} y={f.noteY + 93}>MAE：{maeValues[index]}</text>
        <text x={f.titleX} y={f.titleY} textAnchor="middle">True Value（ppb）</text>
        <text x={f.capX} y={f.capY} textAnchor="middle">（{captionLetters[index]}）{modelNames[index]}</text>
        <text transform={`translate(${f.yTitleX},${f.yTitleY}) rotate(-90)`} textAnchor="middle" style={{ whiteSpace: 'pre' }}>{yTitles[index]}</text>
      </g>
    </g>
  );
};

const Colorbar: React.FC<{ id: string; domain: number[]; ticks: number[]; left: number; right: number; top: number; bottom: number; titleX: number; titleY: number }> = ({
  id, domain, ticks, left, right, top, bottom, titleX, titleY,
}) => {
  const axisRef = useRef<SVGGElement | null>(null);
  const y = d3.scaleLinear().domain(domain).range([bottom, top]);

  useEffect(() => {
    const g = d3.select(axisRef.current as SVGGElement);
    g.selectAll('*').remove();
    g.call(d3.axisRight(y).tickValues(ticks).tickSize(7).tickPadding(3).tickFormat(d3.format('d') as any));
    g.select('.domain').remove();
    g.selectAll('line').attr('stroke', inkGrey).attr('stroke-width', 1.5);
    g.selectAll('text').attr('fill', '#111');
    g.attr('font-family', serif).attr('font-size', textFontSize);
  }, []);

  return (
    <g>
      <defs>
        <linearGradient id={id} x1="0" y1="1" x2="0" y2="0">
          {jetStops.map((s, i) => (
            <stop key={i} offset={s} stopColor={jetColors[i]} />
          ))}
        </linearGradient>
      </defs>
      <rect x={left} y={top} width={right - left} height={bottom - top} fill={`url(#${id})`} stroke="#888" strokeWidth={1} />
      <g ref={axisRef} transform={`translate(${right},0)`} />
      <text transform={`translate(${titleX},${titleY}) rotate(-90)`} textAnchor="middle" fontFamily={serif} fontSize={textFontSize} fill="#111">Log Density</text>
    </g>
  );
};

export default function App() {
  return (
    <svg width={2840} height={1334} viewBox="0 0 2840 1334" style={{ position: 'absolute', left: 0, top: 0, background: '#fff' }}>
      <defs>
        <filter id="blurUpper" x="-10%" y="-10%" width="120%" height="120%">
          <feGaussianBlur stdDeviation={4} />
        </filter>
        <filter id="blurLower" x="-10%" y="-10%" width="120%" height="120%">
          <feGaussianBlur stdDeviation={5} />
        </filter>
        <filter id="blurCore" x="-40%" y="-40%" width="180%" height="180%">
          <feGaussianBlur stdDeviation={1.6} />
        </filter>
        <filter id="rimErode" x="-10%" y="-10%" width="120%" height="120%">
          <feMorphology operator="erode" radius={3} />
        </filter>
      </defs>
      {frames.map((_, i) => (
        <Panel key={i} index={i} />
      ))}
      <Colorbar id="upperBar" domain={upperCbDomain} ticks={upperCbTicks} left={2711} right={2738} top={21} bottom={546} titleX={2821} titleY={224} />
      <Colorbar id="lowerBar" domain={lowerCbDomain} ticks={lowerCbTicks} left={2048.6} right={2075.5} top={670.7} bottom={1206} titleX={2164} titleY={895} />
    </svg>
  );
}
